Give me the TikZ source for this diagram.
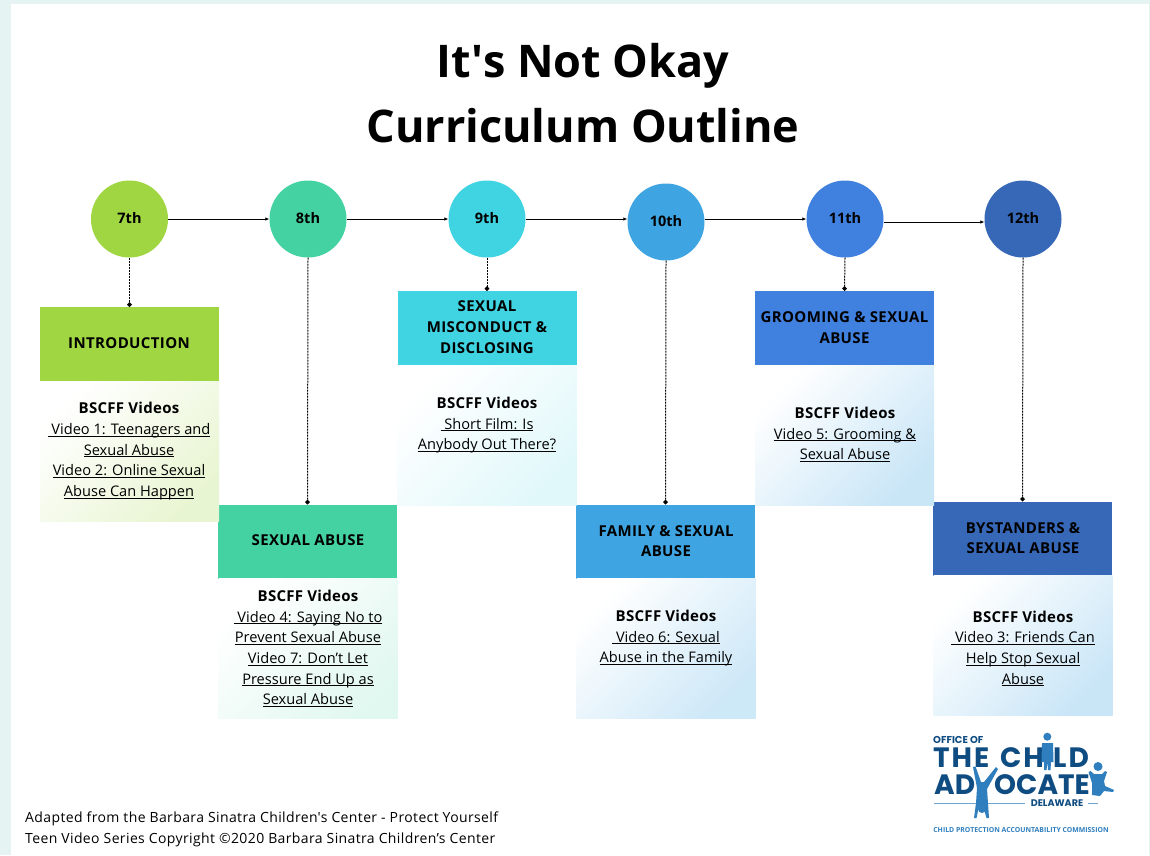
\documentclass[tikz,border=0pt]{standalone}
\usepackage{fontspec}
\setmainfont{Open Sans}
\newfontfamily\logofont{Poppins}
\usetikzlibrary{arrows.meta}
\definecolor{pageteal}{HTML}{E5F4F3}
\definecolor{gradeA}{HTML}{A1D643}
\definecolor{gradeB}{HTML}{45D2A2}
\definecolor{gradeC}{HTML}{40D3E2}
\definecolor{gradeD}{HTML}{3FA5E2}
\definecolor{gradeE}{HTML}{4080DF}
\definecolor{gradeF}{HTML}{3768B8}
\definecolor{logonavy}{HTML}{0F4C81}
\definecolor{logoblue}{HTML}{2F7FBF}
\newcommand{\vidline}[1]{\underline{\smash{#1}}}
\newcommand{\vidhead}{{\fontsize{15}{20.7}\selectfont\bfseries\addfontfeature{LetterSpace=2}BSCFF Videos}}
\begin{document}
\begin{tikzpicture}[x=1pt, y=-1pt]
    \tikzset{grade/.style={circle, minimum size=77pt, inner sep=0pt, text height=10pt, text depth=2pt, font=\fontsize{14.5}{16}\selectfont\bfseries}}
    \tikzset{topic/.style={rectangle, inner sep=0pt, minimum width=179pt, minimum height=74pt}}
    \tikzset{topic text/.style={align=center, font=\fontsize{15}{21}\selectfont\bfseries\addfontfeature{LetterSpace=2.5}}}
    \tikzset{videos/.style={rectangle, inner sep=0pt, minimum width=179pt, minimum height=140pt, left color=white, right color=#1, shading angle=45}}
    \tikzset{videos text/.style={align=center, font=\fontsize{14.6}{20.7}\selectfont}}
    \tikzset{next/.style={-{Latex[length=4pt, width=3.5pt]}, line width=0.9pt}}
    \tikzset{drop/.style={-{Circle[length=4.5pt]}, line width=1pt, dash pattern=on 2pt off 1pt}}
    \tikzset{logo text/.style={inner sep=0pt, text=logonavy}}
    \tikzset{logo word/.style={logo text, anchor=west, font=\fontsize{28}{28}\selectfont\logofont\bfseries}}
    \tikzset{logo wide/.style={logo text, anchor=west, font=\fontsize{28}{28}\selectfont\logofont\bfseries\addfontfeature{LetterSpace=7}}}

    % page
    \fill[pageteal] (0,0) rectangle (1150,855);
    \fill[white] (11,4) rectangle (1149,855);
    \useasboundingbox (0,0) rectangle (1150,855);

    % title
    \node (title) at (583,93) [align=center, font=\fontsize{45}{65}\selectfont\bfseries] {It\textquotesingle s Not Okay\\Curriculum Outline};

    % grades
    \node (c7)  at (129.5,219) [grade, fill=gradeA] {7th};
    \node (c8)  at (308,219)   [grade, fill=gradeB] {8th};
    \node (c9)  at (487,219)   [grade, fill=gradeC] {9th};
    \node (c10) at (666,222)   [grade, fill=gradeD] {10th};
    \node (c11) at (845,219)   [grade, fill=gradeE] {11th};
    \node (c12) at (1023,219)  [grade, fill=gradeF] {12th};

    % topic headers
    \node (h7)  at (129.5,344)  [topic, fill=gradeA] {};
    \node (h8)  at (307.5,541.5) [topic, fill=gradeB] {};
    \node (h9)  at (487,328)    [topic, fill=gradeC] {};
    \node (h10) at (665.5,541.5) [topic, fill=gradeD] {};
    \node (h11) at (844.5,328)  [topic, fill=gradeE] {};
    \node (h12) at (1022.5,538.5) [topic, fill=gradeF] {};

    % video panels
    \node (b7)  at (129.5,451)  [videos=gradeA!24!white] {};
    \node (b8)  at (308,648.5)  [videos=gradeB!16!white] {};
    \node (b9)  at (487,435)    [videos=gradeC!16!white] {};
    \node (b10) at (666,648.5)  [videos=gradeD!26!white] {};
    \node (b11) at (844.5,435)  [videos=gradeD!28!white] {};
    \node (b12) at (1023,645.5) [videos=gradeD!28!white] {};

    % topic text
    \node (t7)  at (129,343)    [topic text] {INTRODUCTION};
    \node (t8)  at (308,540)    [topic text] {SEXUAL ABUSE};
    \node (t9)  at (487,327)    [topic text] {SEXUAL\\MISCONDUCT \&\\DISCLOSING};
    \node (t10) at (666,541.5)  [topic text] {FAMILY \& SEXUAL\\[-1pt]ABUSE};
    \node (t11) at (844.5,328)  [topic text] {GROOMING \& SEXUAL\\ABUSE};
    \node (t12) at (1023,538.5) [topic text] {BYSTANDERS \&\\[-1pt]SEXUAL ABUSE};

    % video text
    \node (v7)  at (129,450.5)  [videos text] {\vidhead\\\vidline{\ Video 1: Teenagers and}\\\vidline{Sexual Abuse}\\\vidline{Video 2: Online Sexual}\\\vidline{Abuse Can Happen}};
    \node (v8)  at (308,648.5)  [videos text] {\vidhead\\\vidline{\ Video 4: Saying No to}\\\vidline{Prevent Sexual Abuse}\\\vidline{Video 7: Don’t Let}\\\vidline{Pressure End Up as}\\\vidline{Sexual Abuse}};
    \node (v9)  at (487,424.5)  [videos text] {\vidhead\\\vidline{\ Short Film: Is}\\\vidline{Anybody Out There?}};
    \node (v10) at (666,637.5)  [videos text] {\vidhead\\\vidline{\ Video 6: Sexual}\\\vidline{Abuse in the Family}};
    \node (v11) at (845,434.5)  [videos text] {\vidhead\\\vidline{Video 5: Grooming \&}\\\vidline{Sexual Abuse}};
    \node (v12) at (1023,648.5) [videos text] {\vidhead\\\vidline{\ Video 3: Friends Can}\\\vidline{Help Stop Sexual}\\\vidline{Abuse}};

    % grade arrows
    \draw[next] (c7) -- (c8);
    \draw[next] (c8) -- (c9);
    \draw[next] (c9.east) -- (c10.west |- c9.east);
    \draw[next] (c10.east |- c11.east) -- (c11.west);
    \draw[next] ([yshift=-3pt]c11.east) -- ([yshift=-3pt]c12.west);

    % dropped lines
    \draw[drop] (c7.south) -- (h7.north);
    \draw[drop] (c8.south) -- (h8.north);
    \draw[drop] (c9.south) -- (h9.north);
    \draw[drop] (c10.south) -- (h10.north);
    \draw[drop] (c11.south) -- (h11.north);
    \draw[drop] (c12.south) -- (h12.north);

    % logo
    \node (office) at (933,740) [logo text, anchor=west, font=\fontsize{10}{10}\selectfont\logofont\bfseries] {OFFICE OF};
    \node (the)    at (933,758) [logo wide] {THE};
    \node (ch)     at (1000,758) [logo wide] {CH};
    \node (ld)     at (1053,758) [logo wide] {LD};
    \node (ad)     at (934,785) [logo word] {AD};
    \node (ocate)  at (994,785) [logo word] {OCATE};
    \node (dela)   at (1057,803) [logo text, font=\fontsize{9.6}{10}\selectfont\logofont\bfseries] {DELAWARE};
    \node (comm)   at (1021,830) [inner sep=0pt, text=logoblue, font=\fontsize{6.9}{8}\selectfont\bfseries] {CHILD PROTECTION ACCOUNTABILITY COMMISSION};
    \draw[logoblue!70, line width=0.6pt] (934,803) -- (1025,803);
    \draw[logoblue!70, line width=0.6pt] (1088,803) -- (1098,803);
    % standing child
    \fill[logoblue] (1047.3,736.7) circle (4);
    \fill[logoblue] (1042,743) -- (1053,743) -- (1053.5,762) -- (1051,762) -- (1050.5,770) -- (1048,770) -- (1047.5,762) -- (1046.5,770) -- (1044,770) -- (1044,762) -- (1041.5,762) -- cycle;
    % handstand child
    \fill[logoblue] (973,767) -- (975.5,766.5) -- (981,782) -- (984,782) -- (996,767) -- (998,769) -- (987,789) -- (988,803) -- (989,818) -- (986.5,818) -- (983,806) -- (979,806) -- (976.5,818) -- (974,818) -- (976,803) -- (977,788) -- cycle;
    \fill[logoblue] (982,809) circle (4);
    % jumping child
    \fill[logoblue] (1098,766.5) circle (4.5);
    \fill[logoblue] (1088.5,772) -- (1090.5,771) -- (1094,774) -- (1102,774) -- (1105,771) -- (1107,772) -- (1104,781) -- (1105,786) -- (1114,790) -- (1113,792) -- (1104,791) -- (1100,796) -- (1092,795) -- (1092,783) -- cycle;

    % credit
    \node (credit) at (25,829) [anchor=west, align=left, inner sep=0pt, font=\fontsize{14}{21}\selectfont\addfontfeature{LetterSpace=2.7}] {Adapted from the Barbara Sinatra Children\textquotesingle s Center - Protect Yourself\\Teen Video Series Copyright ©2020 Barbara Sinatra Children’s Center};
\end{tikzpicture}
\end{document}
